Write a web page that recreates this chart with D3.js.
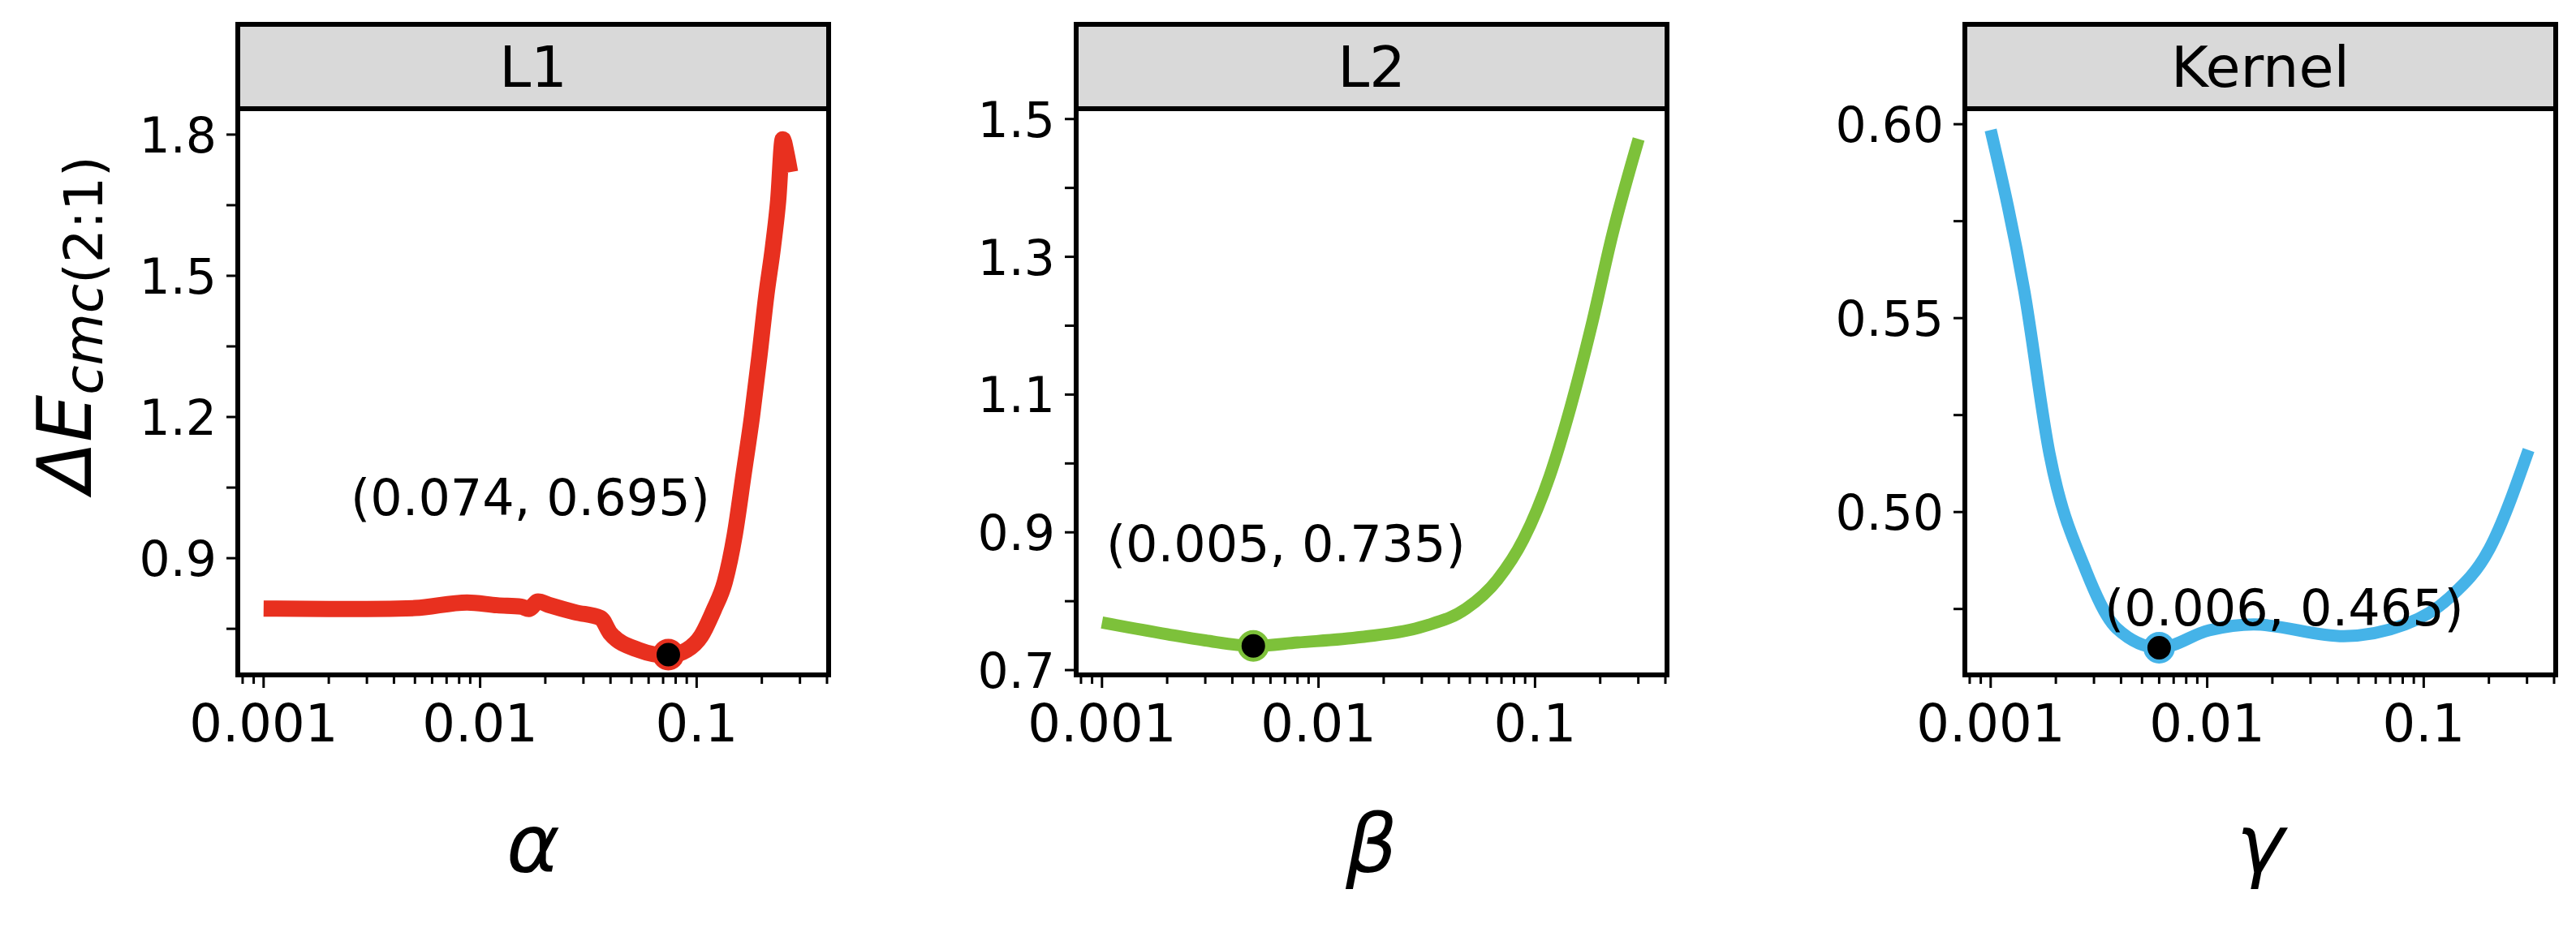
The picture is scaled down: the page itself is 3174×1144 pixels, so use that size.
<!DOCTYPE html>
<html>
<head>
<meta charset="utf-8">
<script src="https://cdn.jsdelivr.net/npm/d3@7"></script>
<style>
  body { margin: 0; background: #fff; }
  text { font-family: "DejaVu Sans", sans-serif; }
</style>
</head>
<body>
<svg id="chart" width="3174" height="1144"></svg>
<script>

// L1 penalty curve (alpha vs dE)
var l1X = [0.001, 0.002, 0.003, 0.005, 0.0087, 0.012, 0.0155, 0.0168, 0.0185, 0.021, 0.0275, 0.036, 0.040, 0.054, 0.074, 0.090, 0.105, 0.12, 0.135, 0.15, 0.165, 0.18, 0.195, 0.21, 0.225, 0.238, 0.25, 0.26, 0.27];
var l1Y = [0.793, 0.792, 0.792, 0.794, 0.806, 0.800, 0.797, 0.792, 0.808, 0.800, 0.785, 0.773, 0.740, 0.705, 0.693, 0.705, 0.735, 0.790, 0.850, 0.950, 1.080, 1.200, 1.330, 1.460, 1.560, 1.660, 1.790, 1.760, 1.720];

// L2 penalty curve
var l2X = [0.001, 0.002, 0.003, 0.005, 0.008, 0.0158, 0.031, 0.048, 0.067, 0.0885, 0.117, 0.146, 0.182, 0.228, 0.301];
var l2Y = [0.769, 0.752, 0.743, 0.735, 0.740, 0.748, 0.764, 0.789, 0.831, 0.890, 0.982, 1.082, 1.199, 1.333, 1.471];

// Kernel curve
var kX = [0.001, 0.00143, 0.00187, 0.00275, 0.00382, 0.006, 0.0102, 0.0164, 0.0427, 0.082, 0.132, 0.201, 0.305];
var kY = [0.5985, 0.557, 0.515, 0.485, 0.470, 0.465, 0.4695, 0.471, 0.468, 0.471, 0.478, 0.4905, 0.516];

var panels = [
  { title: "L1", sym: "\u03b1", color: "#e8301f", xs: l1X, ys: l1Y, best: [0.074, 0.695],
    label: "(0.074, 0.695)", left: 293, yDomain: [0.652, 1.855],
    majors: [0.9, 1.2, 1.5, 1.8], minors: [0.75, 1.05, 1.35, 1.65], fmt: d3.format(".1f"), lab: [-170, -172] },
  { title: "L2", sym: "\u03b2", color: "#7dc13a", xs: l2X, ys: l2Y, best: [0.005, 0.735],
    label: "(0.005, 0.735)", left: 1326, yDomain: [0.693, 1.515],
    majors: [0.7, 0.9, 1.1, 1.3, 1.5], minors: [0.8, 1.0, 1.2, 1.4], fmt: d3.format(".1f"), lab: [40, -104] },
  { title: "Kernel", sym: "\u03b3", color: "#45b3e8", xs: kX, ys: kY, best: [0.006, 0.465],
    label: "(0.006, 0.465)", left: 2421, yDomain: [0.458, 0.604],
    majors: [0.50, 0.55, 0.60], minors: [0.475, 0.525, 0.575], fmt: d3.format(".2f"), lab: [154, -28] }
];

var W = 728, stripTop = 30, boxTop = 134, boxBottom = 832;
var svg = d3.select("#chart");

panels.forEach(function(p) {

  var g = svg.append("g").attr("transform", "translate(" + p.left + ",0)");

  var x = d3.scaleLog().domain([0.00076, 0.407]).range([0, W]);
  var y = d3.scaleLinear().domain(p.yDomain).range([boxBottom, boxTop]);

  // strip
  g.append("rect").attr("x", 0).attr("y", stripTop).attr("width", W).attr("height", boxTop - stripTop)
    .attr("fill", "#d9d9d9").attr("stroke", "#000").attr("stroke-width", 6);
  g.append("text").attr("x", W / 2).attr("y", (stripTop + boxTop) / 2 + 25)
    .attr("text-anchor", "middle").attr("font-size", 70).text(p.title);

  // y axis ticks
  var yAxis = g.append("g");
  yAxis.selectAll("line.maj").data(p.majors.concat(p.minors)).enter().append("line")
    .attr("x1", -14).attr("x2", 0).attr("y1", function(d) { return y(d); }).attr("y2", function(d) { return y(d); })
    .attr("stroke", "#000").attr("stroke-width", 3);
  yAxis.selectAll("text").data(p.majors).enter().append("text")
    .attr("x", -26).attr("y", function(d) { return y(d) + 22; })
    .attr("text-anchor", "end").attr("font-size", 60).text(p.fmt);

  // x axis ticks (log decades + minors)
  var xt = [];
  [0.0001, 0.001, 0.01, 0.1].forEach(function(dec) {
    for (var k = 1; k < 10; k++) {
      var v = dec * k;
      if (v >= 0.00076 && v <= 0.407) xt.push(v);
    }
  });
  g.selectAll("line.xt").data(xt).enter().append("line")
    .attr("x1", function(d) { return x(d); }).attr("x2", function(d) { return x(d); })
    .attr("y1", boxBottom).attr("y2", function(d) { return boxBottom + (Math.abs(Math.log10(d) - Math.round(Math.log10(d))) < 1e-6 ? 16 : 11); })
    .attr("stroke", "#000").attr("stroke-width", 3);
  g.selectAll("text.xl").data([0.001, 0.01, 0.1]).enter().append("text")
    .attr("x", function(d) { return x(d); }).attr("y", boxBottom + 82)
    .attr("text-anchor", "middle").attr("font-size", 64).text(function(d) { return String(d); });

  // curve
  var pts = p.xs.map(function(v, i) { return [v, p.ys[i]]; });
  g.append("path").datum(pts)
    .attr("d", d3.line().x(function(d) { return x(d[0]); }).y(function(d) { return y(d[1]); }).curve(d3.curveMonotoneX))
    .attr("fill", "none").attr("stroke", p.color).attr("stroke-width", p.title === "L1" ? 20 : 15)
    .attr("stroke-linejoin", "round");

  // optimum marker
  g.append("circle").attr("cx", x(p.best[0])).attr("cy", y(p.best[1])).attr("r", 17)
    .attr("fill", "#000").attr("stroke", p.color).attr("stroke-width", 5);
  g.append("text").attr("x", x(p.best[0]) + p.lab[0]).attr("y", y(p.best[1]) + p.lab[1])
    .attr("text-anchor", "middle").attr("font-size", 62)
    .attr("font-family", "Liberation Sans, sans-serif").text(p.label);

  // box
  g.append("rect").attr("x", 0).attr("y", boxTop).attr("width", W).attr("height", boxBottom - boxTop)
    .attr("fill", "none").attr("stroke", "#000").attr("stroke-width", 6);

  // x title
  g.append("text").attr("x", W / 2).attr("y", 1075).attr("text-anchor", "middle")
    .attr("font-size", 100).attr("font-style", "italic").attr("font-family", "DejaVu Serif, serif")
    .text(p.sym);
});

// y title
var yt = svg.append("text").attr("transform", "translate(112,400) rotate(-90)")
  .attr("text-anchor", "middle").attr("font-size", 92);
yt.append("tspan").attr("font-style", "italic").text("\u0394E");
yt.append("tspan").attr("font-style", "italic").attr("font-size", 66).attr("dy", 14).text("cmc");
yt.append("tspan").attr("font-size", 66).text("(2:1)");

</script>
</body>
</html>
